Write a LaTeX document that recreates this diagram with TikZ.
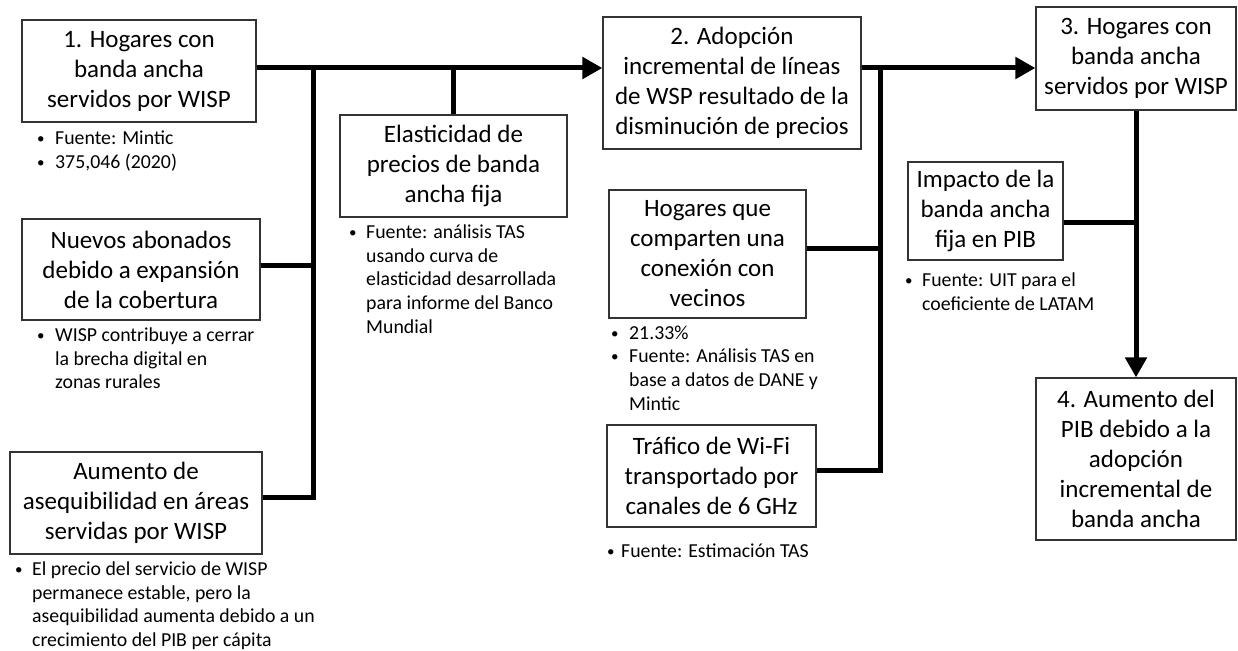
\documentclass[tikz,border=0pt]{standalone}
\usepackage{fontspec}
\setmainfont{Carlito}
\usetikzlibrary{arrows.meta}
\newcommand{\vineta}[1][18pt]{\makebox[#1][l]{\raisebox{1pt}{\fontsize{15}{15}\selectfont\textbullet}}}
\newcommand{\sangria}[1][18pt]{\hspace*{#1}}

\begin{document}
\begin{tikzpicture}[x=1pt, y=-1pt,
  caja/.style={draw=black!80, line width=1.2pt, align=center, inner sep=0pt, font=\fontsize{25}{30}\selectfont},
  nota/.style={anchor=north west, align=left, inner sep=0pt, font=\fontsize{19.8}{23.7}\selectfont},
  linea/.style={line width=5pt},
  flecha/.style={line width=5pt, -{Triangle[length=20pt, width=21pt]}}]

  \useasboundingbox (0,0) rectangle (1238,650);

  % cajas
  \node[caja, minimum width=234pt, minimum height=102pt] (hog1) at (139,71) {1. Hogares con\\banda ancha\\servidos por WISP};
  \node[caja, minimum width=227pt, minimum height=102pt] (ela) at (453.5,166) {Elasticidad de\\precios de banda\\ancha fija};
  \node[caja, minimum width=238pt, minimum height=101pt] (nue) at (141,269.5) {Nuevos abonados\\debido a expansión\\de la cobertura};
  \node[caja, minimum width=252pt, minimum height=102pt] (aum) at (136,503) {Aumento de\\asequibilidad en áreas\\servidas por WISP};
  \node[caja, minimum width=258pt, minimum height=132pt] (adop) at (732,83) {2. Adopción\\incremental de líneas\\de WSP resultado de la\\disminución de precios};
  \node[caja, minimum width=197pt, minimum height=128pt] (comp) at (707.5,254) {Hogares que\\comparten una\\conexión con\\vecinos};
  \node[caja, minimum width=209pt, minimum height=102pt] (tra) at (711.5,476) {Tráfico de Wi-Fi\\transportado por\\canales de 6 GHz};
  \node[caja, minimum width=200pt, minimum height=103pt] (hog3) at (1136,58.5) {3. Hogares con\\banda ancha\\servidos por WISP};
  \node[caja, minimum width=155pt, minimum height=98pt] (imp) at (985.5,211) {Impacto de la\\banda ancha\\fija en PIB};
  \node[caja, minimum width=200pt, minimum height=162pt] (pib) at (1136,459) {4. Aumento del\\PIB debido a la\\adopción\\incremental de\\banda ancha};

  % notas
  \node[nota] (n1) at (37,130.5) {\vineta Fuente: Mintic\\\vineta 375,046 (2020)};
  \node[nota] (nela) at (349,224.5) {\vineta[17pt]Fuente: análisis TAS\\\sangria[17pt]usando curva de\\\sangria[17pt]elasticidad desarrollada\\\sangria[17pt]para informe del Banco\\\sangria[17pt]Mundial};
  \node[nota] (nnue) at (37,327.5) {\vineta WISP contribuye a cerrar\\\sangria la brecha digital en\\\sangria zonas rurales};
  \node[nota] (naum) at (15,561.5) {\vineta[17pt]El precio del servicio de WISP\\\sangria[17pt]permanece estable, pero la\\\sangria[17pt]asequibilidad aumenta debido a un\\\sangria[17pt]crecimiento del PIB per cápita};
  \node[nota] (ncomp) at (611,325.5) {\vineta 21.33\%\\\vineta Fuente: Análisis TAS en\\\sangria base a datos de DANE y\\\sangria Mintic};
  \node[nota] (ntra) at (607,543.5) {\vineta[14pt]Fuente: Estimación TAS};
  \node[nota] (nimp) at (905,272.5) {\vineta[17pt]Fuente: UIT para el\\\sangria[17pt]coeficiente de LATAM};

  % conectores
  \coordinate (bus1) at (313,0);
  \coordinate (bus2) at (880,0);
  \coordinate (ramal1) at ([yshift=3pt]hog1.east);
  \coordinate (ramal2) at ([yshift=6pt]aum.east);
  \coordinate (ramal3) at ([yshift=6pt]tra.east);
  \coordinate (ramal4) at ([yshift=6pt]comp.east);
  \coordinate (ramal5) at ([yshift=-11pt]imp.east);
  \coordinate (ramal6) at ([yshift=4pt]nue.east);

  \draw[flecha] (ramal1) -- (ramal1 -| adop.west);
  \draw[linea] (bus1 |- ramal1) -- (bus1 |- ramal2) -- (ramal2);
  \draw[linea] (ramal6) -- (bus1 |- ramal6);
  \draw[linea] (ela.north) -- (ela.north |- ramal1);
  \draw[flecha] (adop.east |- ramal1) -- (hog3.west |- ramal1);
  \draw[linea] (bus2 |- ramal1) -- (bus2 |- ramal3) -- (ramal3);
  \draw[linea] (ramal4) -- (bus2 |- ramal4);
  \draw[flecha] (hog3.south) -- (pib.north);
  \draw[linea] (ramal5) -- (hog3.south |- ramal5);
\end{tikzpicture}
\end{document}
